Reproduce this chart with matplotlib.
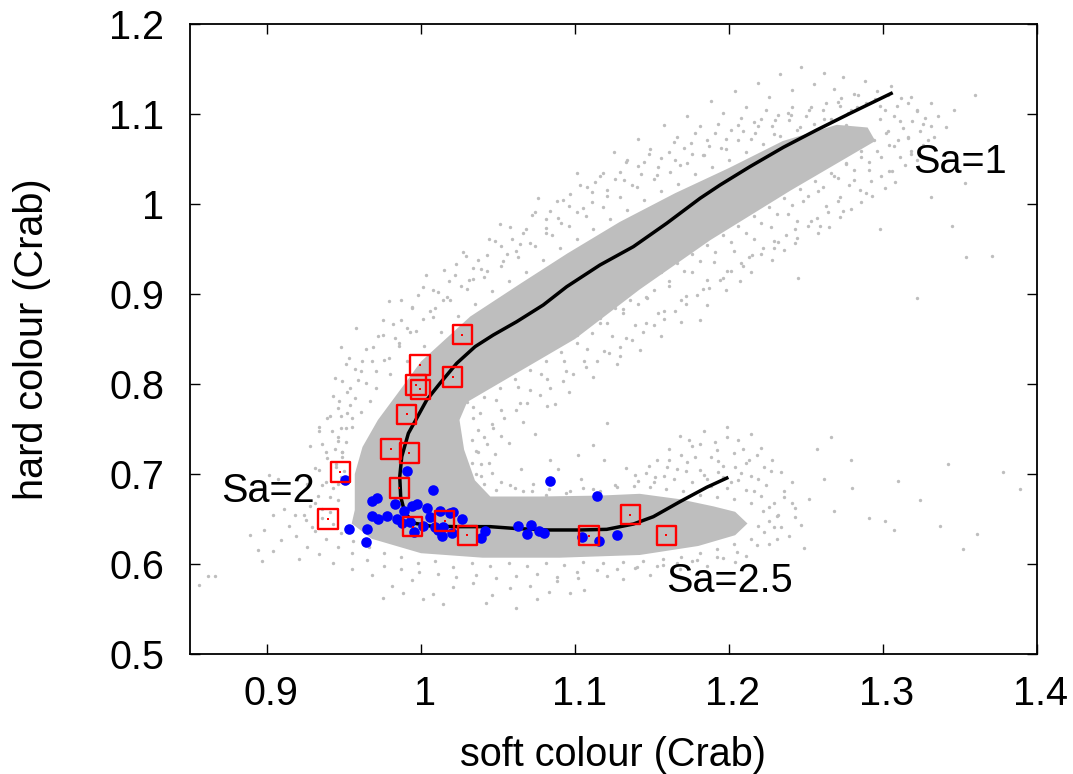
import matplotlib
matplotlib.use('Agg')
import matplotlib.pyplot as plt
from matplotlib.transforms import ScaledTranslation

plt.rcParams['font.family'] = ['Liberation Sans', 'DejaVu Sans']

# outline of the solid part of the grey cloud
core_x = [1.29, 1.27, 1.235, 1.2, 1.165, 1.129, 1.095, 1.065, 1.032, 1.0, 0.985, 0.972, 0.962, 0.957, 0.957, 0.955,
          0.968, 1.0, 1.04, 1.09, 1.142, 1.18, 1.204, 1.212, 1.204, 1.19, 1.168, 1.142, 1.116, 1.077, 1.045, 1.035, 1.028,
          1.025, 1.03, 1.06, 1.1, 1.142, 1.188, 1.24, 1.285, 1.295]
core_y = [1.085, 1.088, 1.07, 1.04, 1.012, 0.98, 0.945, 0.912, 0.875, 0.825, 0.79, 0.76, 0.73, 0.7, 0.66, 0.645,
          0.628, 0.612, 0.607, 0.607, 0.61, 0.62, 0.632, 0.645, 0.658, 0.664, 0.672, 0.678, 0.676, 0.675, 0.675, 0.693, 0.727,
          0.76, 0.78, 0.81, 0.85, 0.905, 0.96, 1.015, 1.06, 1.07]

# loose grey points around the solid part
gray_top = [(1.312, 1.118), (1.305, 1.131), (1.296, 1.126), (1.288, 1.137), (1.281, 1.122), (1.274, 1.141), (1.268, 1.128),
            (1.262, 1.146), (1.255, 1.133), (1.247, 1.152), (1.241, 1.127), (1.233, 1.144), (1.226, 1.119), (1.219, 1.135),
            (1.211, 1.108), (1.204, 1.126), (1.196, 1.101), (1.188, 1.114), (1.181, 1.087), (1.173, 1.098), (1.166, 1.074),
            (1.158, 1.088), (1.149, 1.061), (1.141, 1.072), (1.133, 1.047), (1.125, 1.058), (1.116, 1.031), (1.108, 1.019),
            (1.101, 1.034), (1.092, 1.004), (1.084, 0.992), (1.076, 1.007), (1.068, 0.972), (1.059, 0.961), (1.051, 0.978),
            (1.043, 0.943), (1.034, 0.929), (1.027, 0.947), (1.018, 0.914), (1.011, 0.902), (1.003, 0.921), (0.994, 0.884),
            (0.987, 0.871), (0.979, 0.892), (0.972, 0.853), (0.964, 0.839), (0.958, 0.862), (0.951, 0.822), (0.944, 0.807),
            (1.298, 1.109), (1.289, 1.112), (1.279, 1.104), (1.271, 1.113), (1.262, 1.094), (1.253, 1.108), (1.246, 1.086),
            (1.238, 1.101), (1.229, 1.078), (1.221, 1.095), (1.214, 1.072), (1.206, 1.088), (1.198, 1.061), (1.191, 1.079),
            (1.183, 1.054), (1.175, 1.068), (1.168, 1.043), (1.161, 1.058), (1.153, 1.032), (1.145, 1.047), (1.137, 1.021),
            (1.129, 1.036), (1.121, 1.009), (1.113, 1.024), (1.105, 0.996), (1.097, 1.011), (1.089, 0.984), (1.081, 0.973),
            (1.072, 0.988), (1.064, 0.956), (1.056, 0.944), (1.048, 0.959), (1.039, 0.928), (1.031, 0.916), (1.023, 0.933),
            (1.014, 0.893), (1.006, 0.881), (0.998, 0.899), (0.991, 0.862), (0.983, 0.851), (0.975, 0.871), (0.968, 0.826),
            (0.961, 0.814), (0.954, 0.796), (0.947, 0.781), (0.941, 0.765), (0.934, 0.748), (1.276, 1.088), (1.266, 1.079),
            (0.955, 0.762), (0.946, 0.741), (0.938, 0.724), (0.931, 0.707), (0.926, 0.689), (0.921, 0.671), (0.918, 0.655)]

gray_edge = [(1.241, 1.108), (1.232, 1.099), (1.224, 1.104), (1.216, 1.091), (1.208, 1.096), (1.201, 1.082), (1.193, 1.089),
             (1.186, 1.071), (1.178, 1.079), (1.171, 1.062), (1.164, 1.069), (1.156, 1.051), (1.148, 1.056), (1.141, 1.042),
             (1.134, 1.049), (1.126, 1.028), (1.118, 1.034), (1.111, 1.013), (1.103, 1.021), (1.096, 0.998), (1.088, 1.003),
             (1.081, 0.983), (1.074, 0.991), (1.066, 0.968), (1.058, 0.974), (1.052, 0.953), (1.044, 0.961), (1.037, 0.938),
             (1.029, 0.942), (1.022, 0.921), (1.015, 0.927), (1.008, 0.904), (1.001, 0.908), (0.994, 0.886), (0.987, 0.893),
             (0.982, 0.867), (0.975, 0.854), (0.969, 0.841), (0.962, 0.826), (0.971, 0.815), (0.979, 0.829), (0.986, 0.846),
             (0.993, 0.858), (1.001, 0.872), (1.009, 0.884), (1.017, 0.897), (1.026, 0.909), (1.034, 0.917), (1.043, 0.926),
             (1.053, 0.937), (1.062, 0.948), (1.071, 0.957), (1.081, 0.968), (1.091, 0.979), (1.101, 0.991), (1.111, 1.002),
             (1.121, 1.016), (1.132, 1.027), (1.143, 1.033), (1.154, 1.041), (1.165, 1.049), (1.176, 1.056), (1.187, 1.064),
             (1.198, 1.072), (1.209, 1.081), (1.219, 1.087), (1.23, 1.093), (1.24, 1.099), (1.252, 1.104), (1.263, 1.112),
             (1.273, 1.118), (1.284, 1.121), (1.295, 1.117), (1.303, 1.121), (1.309, 1.109), (1.316, 1.112), (1.322, 1.104),
             (1.327, 1.096), (1.319, 1.092), (1.331, 1.087), (1.324, 1.081), (1.316, 1.073), (1.333, 1.074), (1.326, 1.066),
             (1.318, 1.059), (1.311, 1.052), (1.322, 1.049), (1.314, 1.043), (1.306, 1.037), (1.299, 1.031), (1.308, 1.024),
             (1.301, 1.018), (1.292, 1.026), (1.285, 1.016), (1.278, 1.021), (1.293, 1.009), (1.286, 1.002), (1.279, 0.995),
             (1.271, 1.003), (1.264, 0.991), (1.257, 0.984), (1.272, 0.986), (1.265, 0.975), (1.258, 0.968), (1.251, 0.976),
             (1.244, 0.981), (1.237, 0.966), (1.229, 0.959), (1.243, 0.957), (1.236, 0.949), (1.222, 0.951), (1.215, 0.943),
             (1.228, 0.938), (1.208, 0.934), (1.201, 0.926), (1.214, 0.925), (1.194, 0.916), (1.207, 0.914), (1.187, 0.907),
             (1.198, 0.904), (1.179, 0.899), (1.172, 0.889), (1.186, 0.888), (1.165, 0.881), (1.158, 0.872), (1.169, 0.869),
             (1.151, 0.866), (1.144, 0.858), (1.156, 0.853), (1.137, 0.849), (1.129, 0.841), (1.142, 0.838), (1.122, 0.834),
             (1.114, 0.826), (1.127, 0.822), (1.107, 0.819), (1.099, 0.811), (1.112, 0.808), (1.092, 0.803), (1.084, 0.796),
             (1.096, 0.791), (1.077, 0.788), (1.069, 0.779), (1.082, 0.776), (1.062, 0.771), (1.054, 0.762), (1.066, 0.758),
             (1.047, 0.751), (1.052, 0.742), (1.043, 0.733), (1.048, 0.722), (1.039, 0.711), (1.046, 0.701), (1.052, 0.691),
             (1.061, 0.684), (1.072, 0.681), (1.083, 0.683), (1.094, 0.679), (1.105, 0.684), (1.116, 0.681), (1.127, 0.686),
             (1.138, 0.687), (1.149, 0.686), (1.159, 0.683), (1.17, 0.681), (1.181, 0.677), (1.192, 0.674), (1.203, 0.672),
             (1.214, 0.668), (1.222, 0.659), (1.226, 0.648), (1.223, 0.636), (1.214, 0.628), (1.203, 0.622), (1.192, 0.617),
             (1.181, 0.612), (1.169, 0.608), (1.157, 0.606), (1.144, 0.603), (1.131, 0.602), (1.118, 0.601), (1.105, 0.602),
             (1.093, 0.599), (1.081, 0.601), (1.069, 0.598), (1.057, 0.601), (1.045, 0.598), (1.033, 0.601), (1.021, 0.597),
             (1.009, 0.603), (0.998, 0.601), (0.987, 0.608), (0.976, 0.612), (0.966, 0.619), (0.956, 0.626), (0.948, 0.634),
             (0.943, 0.645), (0.941, 0.658), (0.946, 0.671), (0.943, 0.684), (0.948, 0.697), (0.945, 0.711), (0.949, 0.724),
             (0.946, 0.737), (0.951, 0.751), (0.948, 0.764), (0.954, 0.777), (0.952, 0.791), (0.959, 0.804), (0.957, 0.817),
             (0.936, 0.661), (0.933, 0.676), (0.938, 0.691), (0.934, 0.704), (0.939, 0.718), (0.936, 0.733), (0.942, 0.748),
             (0.939, 0.762), (0.946, 0.773), (0.943, 0.787), (0.949, 0.803), (0.953, 0.829), (0.948, 0.841), (0.928, 0.665),
             (0.925, 0.649), (0.931, 0.637), (0.938, 0.628), (0.946, 0.619), (0.955, 0.612), (0.965, 0.604), (0.976, 0.598),
             (0.987, 0.594), (0.999, 0.591), (1.011, 0.589), (1.023, 0.586), (1.036, 0.588), (1.049, 0.585), (1.062, 0.587),
             (1.075, 0.589), (1.088, 0.586), (1.101, 0.591), (1.114, 0.593), (1.127, 0.594), (1.14, 0.597), (1.153, 0.598),
             (1.166, 0.601), (1.179, 0.604), (1.192, 0.608), (1.205, 0.613), (1.218, 0.621), (1.231, 0.628), (1.234, 0.641),
             (1.232, 0.655), (1.229, 0.668), (1.221, 0.676), (1.211, 0.682), (1.199, 0.684), (1.188, 0.687), (1.176, 0.691),
             (1.164, 0.694), (1.152, 0.697), (1.139, 0.699), (1.206, 0.693), (1.196, 0.697), (1.184, 0.699), (1.172, 0.703),
             (1.16, 0.708), (1.148, 0.709), (1.214, 0.698), (1.224, 0.688), (1.213, 0.716), (1.204, 0.708), (1.193, 0.714),
             (1.178, 0.719), (1.169, 0.721), (1.161, 0.716), (1.181, 0.733), (1.192, 0.727), (1.174, 0.738), (1.199, 0.741),
             (1.209, 0.728), (1.218, 0.721), (1.227, 0.703), (1.236, 0.681), (1.241, 0.668), (1.243, 0.652)]

# dots hugging the solid part, upper side then lower side of the rising arm
gray_ring = [(1.283, 1.108), (1.277, 1.101), (1.272, 1.109), (1.266, 1.094), (1.261, 1.104), (1.255, 1.089), (1.25, 1.098),
             (1.244, 1.082), (1.239, 1.093), (1.233, 1.076), (1.228, 1.087), (1.222, 1.067), (1.217, 1.079), (1.211, 1.058),
             (1.206, 1.071), (1.2, 1.049), (1.195, 1.062), (1.189, 1.041), (1.184, 1.055), (1.178, 1.033), (1.173, 1.046),
             (1.167, 1.022), (1.162, 1.036), (1.156, 1.014), (1.151, 1.028), (1.145, 1.005), (1.14, 1.019), (1.134, 0.993),
             (1.129, 1.008), (1.123, 0.983), (1.118, 0.997), (1.112, 0.972), (1.107, 0.987), (1.101, 0.961), (1.096, 0.976),
             (1.09, 0.951), (1.085, 0.966), (1.079, 0.938), (1.074, 0.953), (1.068, 0.925), (1.063, 0.941), (1.057, 0.915),
             (1.052, 0.931), (1.046, 0.903), (1.041, 0.919), (1.035, 0.889), (1.03, 0.906), (1.024, 0.876), (1.019, 0.893),
             (1.013, 0.858), (1.008, 0.875), (1.002, 0.842), (0.997, 0.859), (0.991, 0.826), (0.986, 0.842), (0.98, 0.811),
             (0.976, 0.827), (0.971, 0.796), (0.967, 0.781), (0.964, 0.801), (0.961, 0.769), (0.957, 0.785), (0.955, 0.752),
             (0.952, 0.768), (0.951, 0.736), (0.948, 0.751), (0.949, 0.719), (0.944, 0.728), (0.95, 0.703), (0.946, 0.689),
             (1.296, 1.059), (1.291, 1.047), (1.286, 1.052), (1.281, 1.038), (1.276, 1.044), (1.271, 1.029), (1.266, 1.035),
             (1.261, 1.019), (1.256, 1.026), (1.251, 1.009), (1.246, 1.017), (1.241, 0.999), (1.236, 1.007), (1.231, 0.989),
             (1.226, 0.997), (1.221, 0.979), (1.216, 0.987), (1.211, 0.968), (1.206, 0.976), (1.201, 0.958), (1.196, 0.966),
             (1.191, 0.947), (1.186, 0.955), (1.181, 0.937), (1.176, 0.945), (1.171, 0.926), (1.166, 0.935), (1.161, 0.915),
             (1.156, 0.924), (1.151, 0.904), (1.146, 0.897), (1.141, 0.889), (1.136, 0.893), (1.131, 0.879), (1.126, 0.884),
             (1.121, 0.868), (1.116, 0.873), (1.111, 0.857), (1.106, 0.863), (1.101, 0.846), (1.096, 0.851), (1.091, 0.836),
             (1.086, 0.841), (1.081, 0.826), (1.076, 0.831), (1.071, 0.816), (1.066, 0.822), (1.061, 0.806), (1.056, 0.812),
             (1.051, 0.796), (1.046, 0.801), (1.041, 0.786), (1.037, 0.791), (1.034, 0.775), (1.03, 0.78), (1.034, 0.762),
             (1.037, 0.749), (1.033, 0.738), (1.037, 0.725), (1.033, 0.712), (1.036, 0.7), (1.041, 0.689), (1.049, 0.682),
             (1.302, 1.079), (1.298, 1.094), (1.307, 1.098), (1.313, 1.084), (1.304, 1.066), (1.31, 1.071), (1.301, 1.104)]

gray_right = [(1.336, 1.098), (1.331, 1.112), (1.326, 1.089), (1.322, 1.103), (1.318, 1.119), (1.316, 1.074), (1.311, 1.092),
              (1.307, 1.064), (1.303, 1.081), (1.299, 1.052), (1.294, 1.071), (1.291, 1.038), (1.286, 1.059), (1.281, 1.027),
              (1.276, 1.046), (1.272, 1.008), (1.268, 1.031), (1.263, 0.998), (1.258, 1.014), (1.253, 0.981), (1.248, 1.003),
              (1.243, 0.972), (1.238, 0.989), (1.232, 0.958), (1.227, 0.974), (1.221, 0.944), (1.216, 0.961), (1.209, 0.931),
              (1.203, 0.948), (1.196, 0.918), (1.19, 0.936), (1.183, 0.906), (1.176, 0.924), (1.169, 0.893), (1.161, 0.909),
              (1.154, 0.879), (1.147, 0.896), (1.139, 0.866), (1.131, 0.883), (1.124, 0.853), (1.116, 0.868), (1.108, 0.839),
              (1.101, 0.854), (1.093, 0.826), (1.086, 0.841), (1.078, 0.811), (1.07, 0.827), (1.063, 0.797), (1.056, 0.812),
              (1.049, 0.782), (1.042, 0.798), (1.038, 0.768), (1.046, 0.756), (1.041, 0.741), (1.036, 0.726), (1.044, 0.712),
              (1.039, 0.698), (1.052, 0.771), (1.064, 0.779), (1.057, 0.734), (1.071, 0.793), (1.082, 0.806), (1.094, 0.814),
              (1.106, 0.826), (1.119, 0.837), (1.133, 0.851), (1.146, 0.868), (1.158, 0.881), (1.172, 0.898), (1.186, 0.916),
              (1.199, 0.926), (1.213, 0.941), (1.229, 0.951), (1.244, 0.962), (1.259, 0.976), (1.274, 0.992), (1.289, 1.012),
              (1.304, 1.037), (1.318, 1.056), (1.329, 1.071), (1.341, 1.086), (1.346, 1.104), (1.36, 1.121), (1.353, 1.023),
              (1.345, 0.976), (1.371, 0.942), (1.298, 0.972), (1.245, 0.918), (1.181, 0.871), (1.129, 0.831), (1.087, 0.778),
              (1.074, 0.744), (1.102, 0.721), (1.121, 0.757), (1.065, 0.706), (1.058, 0.688), (1.084, 0.716), (1.112, 0.732)]

gray_lower = [(1.146, 0.701), (1.153, 0.716), (1.161, 0.728), (1.168, 0.742), (1.176, 0.731), (1.184, 0.748), (1.191, 0.736),
              (1.199, 0.752), (1.206, 0.738), (1.214, 0.744), (1.221, 0.729), (1.228, 0.716), (1.234, 0.702), (1.241, 0.691),
              (1.236, 0.674), (1.243, 0.662), (1.231, 0.653), (1.247, 0.643), (1.239, 0.631), (1.226, 0.622), (1.219, 0.694),
              (1.211, 0.712), (1.203, 0.723), (1.196, 0.709), (1.188, 0.719), (1.181, 0.704), (1.173, 0.713), (1.166, 0.706),
              (1.158, 0.698), (1.151, 0.691), (1.141, 0.692), (1.133, 0.707), (1.126, 0.688), (1.119, 0.716), (1.112, 0.683),
              (1.104, 0.695), (1.097, 0.681), (1.089, 0.706), (1.081, 0.677), (1.073, 0.689), (1.066, 0.681), (1.223, 0.708),
              (1.216, 0.681), (1.208, 0.701), (1.201, 0.691), (1.193, 0.702), (1.186, 0.694), (1.226, 0.663), (1.219, 0.642),
              (1.229, 0.641), (1.257, 0.728), (1.266, 0.741), (1.279, 0.716), (1.262, 0.694), (1.252, 0.672), (1.268, 0.659),
              (1.249, 0.618), (1.211, 0.609), (1.196, 0.607), (1.176, 0.603), (1.157, 0.599), (1.139, 0.596), (1.121, 0.587),
              (1.102, 0.584), (1.088, 0.581), (1.106, 0.571), (1.083, 0.569), (1.071, 0.576), (1.058, 0.573), (1.046, 0.566),
              (1.034, 0.579), (1.021, 0.574), (1.008, 0.567), (0.994, 0.582), (0.981, 0.576), (0.968, 0.588), (0.955, 0.594),
              (0.943, 0.601), (0.934, 0.611), (0.926, 0.619), (0.919, 0.631), (0.914, 0.642), (0.909, 0.627), (0.921, 0.606),
              (0.911, 0.661), (0.904, 0.654), (0.898, 0.638), (0.894, 0.616), (0.936, 0.651), (0.929, 0.641), (0.931, 0.668),
              (0.924, 0.654), (0.936, 0.688), (0.941, 0.674), (0.945, 0.708), (0.949, 0.724), (1.014, 0.556), (1.062, 0.551),
              (1.075, 0.561), (1.097, 0.568), (1.042, 0.557), (1.001, 0.561), (0.988, 0.568), (0.975, 0.562), (1.131, 0.583),
              (1.149, 0.588), (1.168, 0.594), (1.186, 0.598), (1.204, 0.602)]

gray_stray = [(0.856, 0.577), (0.862, 0.587), (0.866, 0.587), (0.889, 0.632), (0.897, 0.603), (0.904, 0.614), (0.901, 0.699),
              (0.907, 0.694), (0.934, 0.752), (0.928, 0.731), (1.291, 0.651), (1.301, 0.648), (1.324, 0.671), (1.337, 0.642),
              (1.352, 0.617), (1.361, 0.633), (1.378, 0.702), (1.389, 0.683), (1.31, 0.692), (1.342, 0.711), (1.28, 0.684),
              (1.322, 0.896), (1.354, 0.941), (1.331, 1.008), (1.307, 0.638)]

# red squares, each with a tiny dot in the middle
red_x = [1.0268, 0.9994, 1.0206, 0.9968, 0.9996, 0.9907, 0.9805, 0.9924, 0.9476, 0.9859, 0.9396, 0.9946, 1.0154, 1.03,
         1.1091, 1.1359, 1.1593]
red_y = [0.8548, 0.8211, 0.8078, 0.7989, 0.7941, 0.7663, 0.7278, 0.7233, 0.7022, 0.6844, 0.65, 0.6415, 0.6478, 0.6319,
         0.6315, 0.6548, 0.6319]

blue_x = [0.9907, 0.9509, 1.0078, 0.9716, 0.968, 0.9831, 0.9972, 0.994, 0.9892, 1.0037, 1.0123, 1.021, 1.0188, 1.0268,
          0.9682, 0.9719, 0.9777, 0.9842, 0.9875, 1.0058, 1.0091, 0.9929, 1.0015, 1.0112, 1.0145, 1.0199, 1.0138, 0.9957,
          0.953, 0.9649, 0.9641, 1.0387, 1.0416, 1.063, 1.0712, 1.0688, 1.0764, 1.0801, 1.084, 1.1141, 1.1043, 1.1156, 1.1273]
blue_y = [0.7033, 0.6937, 0.6819, 0.6733, 0.67, 0.6667, 0.6667, 0.6644, 0.6592, 0.6622, 0.6589, 0.6574, 0.6563, 0.6496,
          0.6533, 0.6504, 0.6533, 0.6504, 0.6452, 0.6526, 0.6415, 0.647, 0.6422, 0.6378, 0.6415, 0.6348, 0.6311, 0.6359,
          0.6393, 0.6389, 0.6248, 0.6285, 0.6367, 0.6419, 0.6437, 0.6333, 0.6367, 0.6341, 0.6926, 0.6759, 0.6304, 0.6256, 0.6319]

track_x = [1.3063, 1.2786, 1.2569, 1.2353, 1.2136, 1.1942, 1.1812, 1.1595, 1.1379, 1.1162, 1.0946, 1.0794, 1.0621, 1.0469,
           1.0351, 1.0232, 1.0123, 1.0037, 0.9972, 0.9918, 0.9875, 0.9862, 0.9868, 0.9896, 0.9961, 1.0058, 1.0232, 1.0448,
           1.0601, 1.0816, 1.1032, 1.1206, 1.1379, 1.1509, 1.1682, 1.1855, 1.1996]
track_y = [1.1237, 1.1007, 1.0822, 1.063, 1.0415, 1.0211, 1.0063, 0.9785, 0.9526, 0.9322, 0.9081, 0.8878, 0.8692, 0.8544,
           0.8415, 0.823, 0.8007, 0.7822, 0.7619, 0.7452, 0.7193, 0.697, 0.6748, 0.6563, 0.6452, 0.6422, 0.6415, 0.6415,
           0.6396, 0.6378, 0.6378, 0.6385, 0.6444, 0.6526, 0.6693, 0.6852, 0.6963]

xticks = [0.9, 1, 1.1, 1.2, 1.3, 1.4]
yticks = [0.5, 0.6, 0.7, 0.8, 0.9, 1, 1.1, 1.2]
grey = '#bebebe'

fig = plt.figure(figsize=(10.73, 7.74), dpi=100)
ax = fig.add_axes([190/1073., 1-654/774., 847/1073., 630/774.])

ax.fill(core_x, core_y, color=grey, lw=0, zorder=1)
gray_pts = gray_top+gray_edge+gray_ring+gray_right+gray_lower+gray_stray
ax.scatter([p[0] for p in gray_pts], [p[1] for p in gray_pts], s=6, color=grey, lw=0, zorder=1)

ax.plot(track_x, track_y, 'k-', lw=2.5, zorder=3, solid_capstyle='butt', solid_joinstyle='round')
ax.scatter(blue_x, blue_y, s=58, color='#0000ff', lw=0, zorder=4)
ax.scatter(red_x, red_y, s=195, marker='s', facecolor='none', edgecolor='#ff0000', lw=1.7, zorder=5)
ax.scatter(red_x, red_y, s=2.5, marker='s', color='#ff0000', lw=0, zorder=5)

ax.set_xlim(0.85, 1.4)
ax.set_ylim(0.5, 1.2)
ax.set_xticks(xticks)
ax.set_xticklabels(['0.9', '1', '1.1', '1.2', '1.3', '1.4'])
ax.set_yticks(yticks)
ax.set_yticklabels(['0.5', '0.6', '0.7', '0.8', '0.9', '1', '1.1', '1.2'])
ax.tick_params(axis='both', direction='in', top=True, right=True, length=7.5, width=1.0, labelsize=28.5)
ax.tick_params(axis='x', pad=15)
ax.tick_params(axis='y', pad=18.5)
shift = ScaledTranslation(4/100., 0, fig.dpi_scale_trans)
for lbl in ax.get_xticklabels():
    lbl.set_transform(lbl.get_transform()+shift)
for s in ax.spines.values():
    s.set_linewidth(1.3)

ax.set_xlabel('soft colour (Crab)', fontsize=28.5, labelpad=16.5)
ax.set_ylabel('hard colour (Crab)', fontsize=28.5, labelpad=42)

ax.text(1.3197, 1.047, 'Sa=1', fontsize=28.5, ha='left', va='center', zorder=6)
ax.text(0.9005, 0.681, 'Sa=2', fontsize=28.5, ha='center', va='center', zorder=6)
ax.text(1.159, 0.581, 'Sa=2.5', fontsize=28.5, ha='left', va='center', zorder=6)

plt.savefig('out.png', dpi=100)
